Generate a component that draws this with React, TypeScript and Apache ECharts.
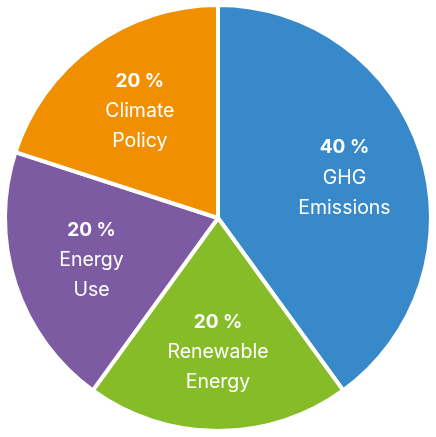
import React, { useEffect, useRef } from "react";
import * as echarts from "echarts";

const categories = ["GHG\nEmissions", "Renewable\nEnergy", "Energy\nUse", "Climate\nPolicy"];
const values = [40, 20, 20, 20];
const colors = ["#3889C9", "#86BC28", "#7D5BA3", "#F08F00"];

export default function App() {
  const ref = useRef<HTMLDivElement>(null);
  useEffect(() => {
    const chart = echarts.init(ref.current!, null, { renderer: "svg" });
    const data = categories.map((c, i) => ({ name: c, value: values[i], itemStyle: { color: colors[i] } }));
    const total = values.reduce((a, b) => a + b, 0);
    chart.setOption({
      animation: false,
      series: [
        {
          type: "pie",
          center: [218, 218],
          radius: [0, 213],
          startAngle: 90,
          clockwise: true,
          silent: true,
          data,
          itemStyle: { borderColor: "#ffffff", borderWidth: 4 },
          label: { show: false },
          labelLine: { show: false },
        },
        {
          type: "pie",
          center: [218, 218],
          radius: [56, 204],
          startAngle: 90,
          clockwise: true,
          silent: true,
          data: data.map((d) => ({ ...d, itemStyle: { color: "rgba(0,0,0,0)" } })),
          itemStyle: { borderWidth: 0 },
          label: {
            show: true,
            position: "inside",
            formatter: (p: any) => {
              const pct = Math.round((p.value / total) * 100);
              const lines = String(p.name).split("\n").map((l) => `{n|${l}}`).join("\n");
              return `{b|${pct} %}\n${lines}`;
            },
            rich: {
              b: { fontFamily: "Inter", fontSize: 19, fontWeight: "bold", color: "#fff", lineHeight: 30 },
              n: { fontFamily: "Inter", fontSize: 19.5, color: "#fff", lineHeight: 30 },
            },
          },
          labelLine: { show: false },
        },
      ],
    });
    return () => chart.dispose();
  }, []);
  return <div ref={ref} style={{ position: "fixed", left: 0, top: 0, width: 436, height: 437 }} />;
}
